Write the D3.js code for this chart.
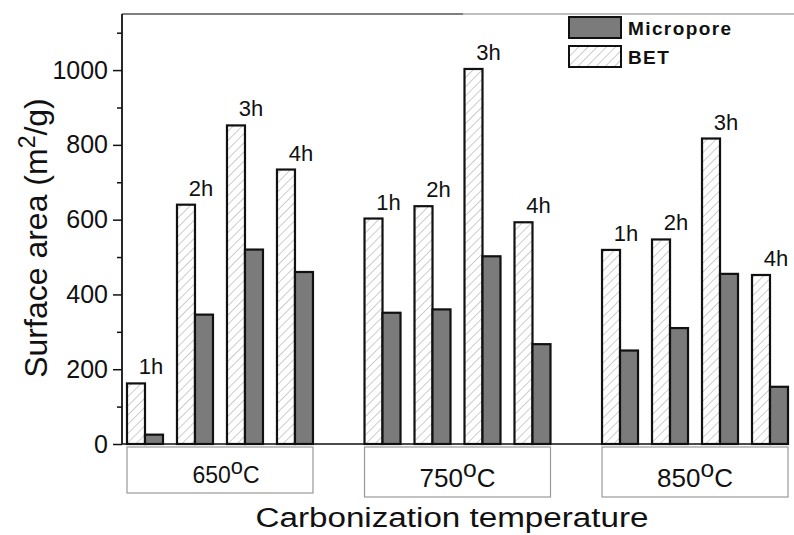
<!DOCTYPE html>
<html>
<head>
<meta charset="utf-8">
<script src="https://cdn.jsdelivr.net/npm/d3@7"></script>
<style>
  html, body { margin: 0; padding: 0; background: #fff; }
  svg { display: block; font-family: "Liberation Sans", Arial, sans-serif; }
</style>
</head>
<body>
<svg id="chart" width="794" height="535"></svg>
<script>
// ---- data ----
const groups = ["650", "750", "850"];
const hours = ["1h", "2h", "3h", "4h"];
const series = ["BET", "Micropore"];
const betValues = [
  [162, 640, 852, 734],
  [603, 636, 1003, 593],
  [519, 547, 817, 452]
];
const microValues = [
  [25, 346, 520, 460],
  [351, 360, 502, 267],
  [250, 310, 455, 153]
];
const yMajorTicks = [0, 200, 400, 600, 800, 1000];
const yMinorTicks = [100, 300, 500, 700, 900, 1100];
const yTitle = "Surface area (m";
const xTitle = "Carbonization temperature";

// ---- layout ----
const svg = d3.select("#chart");
const axisX = 122, plotTop = 14, plotBottom = 444;

const y = d3.scaleLinear().domain([0, 1150]).range([plotBottom, plotTop]);
const xg = d3.scaleBand().domain(groups).range([127, 788]).paddingInner(0.217).paddingOuter(0);
const xh = d3.scaleBand().domain(hours).range([0, xg.bandwidth()]).paddingInner(0.28).paddingOuter(0);
const xs = d3.scaleBand().domain(series).range([0, xh.bandwidth()]).padding(0);

// hatch pattern
const defs = svg.append("defs");
const pat = defs.append("pattern")
  .attr("id", "hatch").attr("patternUnits", "userSpaceOnUse")
  .attr("width", 6.5).attr("height", 10)
  .attr("patternTransform", "rotate(45)");
pat.append("rect").attr("width", 6.5).attr("height", 10).attr("fill", "#fff");
pat.append("line").attr("x1", 0).attr("y1", 0).attr("x2", 0).attr("y2", 10)
  .attr("stroke", "#9a9a9a").attr("stroke-width", 1);

const fills = { BET: "url(#hatch)", Micropore: "#7b7b7b" };

// top frame line
svg.append("line").attr("x1", axisX).attr("x2", 463).attr("y1", plotTop).attr("y2", plotTop)
  .attr("stroke", "#555").attr("stroke-width", 1.3);
svg.append("line").attr("x1", 463).attr("x2", 794).attr("y1", plotTop).attr("y2", plotTop)
  .attr("stroke", "#aaa").attr("stroke-width", 1.3);

// bars
const barData = [];
groups.forEach((g, gi) => {
  hours.forEach((h, hi) => {
    barData.push({ g, h, s: "BET", v: betValues[gi][hi] });
    barData.push({ g, h, s: "Micropore", v: microValues[gi][hi] });
  });
});
svg.append("g").selectAll("rect").data(barData).join("rect")
  .attr("x", d => xg(d.g) + xh(d.h) + xs(d.s))
  .attr("y", d => y(d.v))
  .attr("width", xs.bandwidth())
  .attr("height", d => y(0) - y(d.v))
  .attr("fill", d => fills[d.s])
  .attr("stroke", "#111")
  .attr("stroke-width", 2.2);

// hour labels
const labData = [];
groups.forEach((g, gi) => hours.forEach((h, hi) => labData.push({ g, h, v: betValues[gi][hi] })));
svg.append("g").selectAll("text").data(labData).join("text")
  .attr("x", d => xg(d.g) + xh(d.h) + xh.bandwidth() / 2 + 6)
  .attr("y", d => y(d.v) - 9)
  .attr("text-anchor", "middle")
  .attr("font-size", 22)
  .attr("fill", "#111")
  .text(d => d.h);

// y axis
const yAxis = d3.axisLeft(y).tickValues(yMajorTicks).tickSize(9).tickPadding(5).tickFormat(d3.format("d"));
const ya = svg.append("g").attr("transform", `translate(${axisX},0)`).call(yAxis);
ya.select(".domain").remove();
ya.selectAll(".tick line").attr("stroke", "#111").attr("stroke-width", 1.5);
ya.selectAll(".tick text").attr("font-size", 25).attr("fill", "#111")
  .attr("font-family", "'Liberation Sans', Arial, sans-serif");
const yMinor = d3.axisLeft(y).tickValues(yMinorTicks).tickSize(5).tickFormat("");
const ym = svg.append("g").attr("transform", `translate(${axisX},0)`).call(yMinor);
ym.select(".domain").remove();
ym.selectAll(".tick line").attr("stroke", "#111").attr("stroke-width", 1.5);
svg.append("line").attr("x1", axisX).attr("x2", axisX).attr("y1", plotTop).attr("y2", plotBottom)
  .attr("stroke", "#111").attr("stroke-width", 1.8);
// baseline
svg.append("line").attr("x1", axisX).attr("x2", 787).attr("y1", y(0)).attr("y2", y(0))
  .attr("stroke", "#111").attr("stroke-width", 1.5);

// group boxes and labels
const gBoxes = svg.append("g");
groups.forEach((g, gi) => {
  gBoxes.append("rect")
    .attr("x", xg(g)).attr("y", 447)
    .attr("width", xg.bandwidth()).attr("height", gi === 0 ? 46 : 50)
    .attr("fill", "#fff").attr("stroke", "#999").attr("stroke-width", 1.2);
  const fs = gi === 0 ? 23 : 26;
  const t = gBoxes.append("text")
    .attr("x", xg(g) + xg.bandwidth() / 2 + (gi === 0 ? 6 : 0))
    .attr("y", gi === 0 ? 483 : 487)
    .attr("text-anchor", "middle")
    .attr("font-size", fs).attr("fill", "#111");
  t.append("tspan").text(g);
  t.append("tspan").attr("dy", -fs * 0.38).attr("font-size", fs * 0.95).text("o");
  t.append("tspan").attr("dy", fs * 0.38).text("C");
});

// axis titles
const yt = svg.append("text")
  .attr("transform", "translate(47,238) rotate(-90)")
  .attr("text-anchor", "middle")
  .attr("font-size", 32).attr("fill", "#111");
yt.append("tspan").text(yTitle);
yt.append("tspan").attr("dy", -12).attr("font-size", 23).text("2");
yt.append("tspan").attr("dy", 12).text("/g)");

svg.append("text")
  .attr("x", 452).attr("y", 527)
  .attr("text-anchor", "middle")
  .attr("font-size", 27).attr("fill", "#111")
  .attr("textLength", 393).attr("lengthAdjust", "spacingAndGlyphs")
  .text(xTitle);

// legend
const legendItems = ["Micropore", "BET"];
const leg = svg.append("g");
legendItems.forEach((s, i) => {
  leg.append("rect").attr("x", 569).attr("y", 17 + i * 29).attr("width", 52).attr("height", 21)
    .attr("fill", fills[s]).attr("stroke", "#111").attr("stroke-width", 2);
  leg.append("text").attr("x", 628).attr("y", 35 + i * 29)
    .attr("font-size", 19).attr("font-weight", "bold").attr("letter-spacing", 1.4)
    .attr("fill", "#111").text(s);
});
</script>
</body>
</html>
